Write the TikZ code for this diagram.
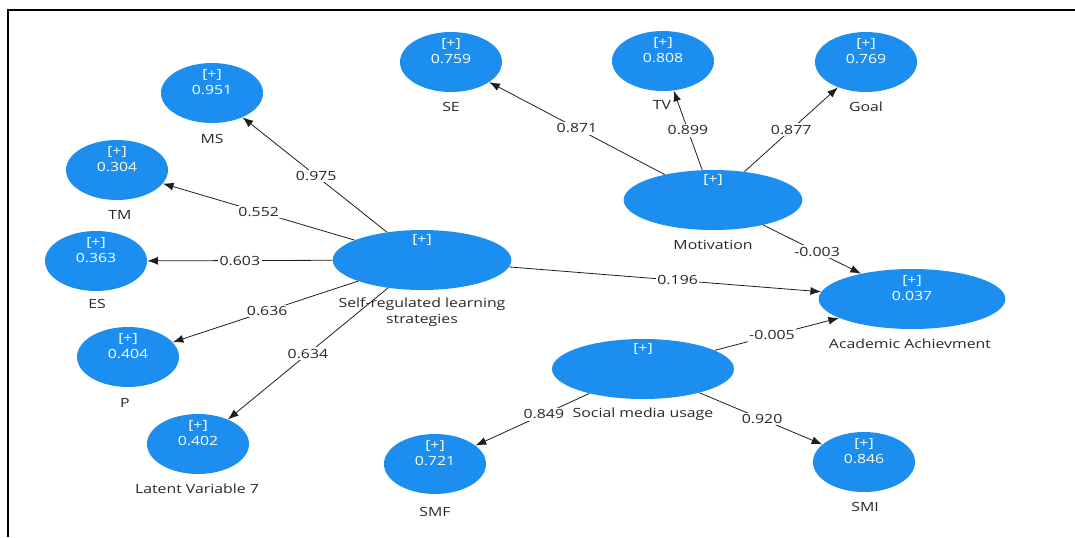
\documentclass[tikz,border=0pt]{standalone}
\usepackage{fontspec}
\setmainfont{Open Sans}[FakeStretch=1.25]
\usetikzlibrary{shapes.geometric,arrows.meta}
\definecolor{lvblue}{RGB}{28,142,240}
\definecolor{txtc}{RGB}{40,40,40}
\definecolor{edgec}{RGB}{30,30,30}
\newcommand\lvinner[2]{%
  \node[intx] (#1-p) at ([yshift=13.5pt]#1.center) {[+]};
  \node[intx] (#1-v) at ([yshift=2.25pt]#1.center) {#2};}
\newcommand\lvbiginner[1]{%
  \node[intx] (#1-p) at ([yshift=15pt]#1.center) {[+]};}
\begin{document}
\begin{tikzpicture}[x=0.75pt,y=-0.75pt,
  lv/.style={ellipse, fill=lvblue, draw=none, inner sep=0pt, minimum width=76.5pt, minimum height=45pt},
  lvbig/.style={lv, minimum width=134pt, minimum height=45pt},
  intx/.style={text=white, font=\fontsize{9.5}{11}\selectfont, inner sep=0pt},
  lab/.style={text=txtc, font=\fontsize{9.5}{11.5}\selectfont, inner sep=0pt, align=center},
  elab/.style={fill=white, text=txtc, font=\fontsize{9.5}{11}\selectfont, inner sep=1.2pt},
  edge/.style={draw=edgec, line width=0.6pt, -{Latex[length=8pt,width=6pt]}},
  frame/.style={line width=2pt, black}]
\useasboundingbox (0,0) rectangle (1075,537);
% frame
\coordinate (f1) at (8,537);
\coordinate (f2) at (8,10);
\coordinate (f3) at (1075,10);
\draw[frame] (f1) -- (f2) -- (f3);
% latent variables
\node[lv] (MS) at (212,93) {};
\node[lv] (TM) at (117,170) {};
\node[lv] (ES) at (96,261) {};
\node[lv] (P) at (128,357) {};
\node[lv] (LV7) at (198,444) {};
\node[lv] (SE) at (451,62) {};
\node[lv] (TV) at (663,61) {};
\node[lv] (Goal) at (866,62) {};
\node[lvbig] (Mot) at (713,200) {};
\node[lvbig] (SRL) at (422,260) {};
\node[lvbig, minimum width=140pt] (Acad) at (912,299) {};
\node[lvbig, minimum width=136.5pt] (Soc) at (643,369) {};
\node[lv] (SMF) at (435,464) {};
\node[lv] (SMI) at (864,462) {};
\lvinner{MS}{0.951}
\lvinner{TM}{0.304}
\lvinner{ES}{0.363}
\lvinner{P}{0.404}
\lvinner{LV7}{0.402}
\lvinner{SE}{0.759}
\lvinner{TV}{0.808}
\lvinner{Goal}{0.769}
\lvinner{Acad}{0.037}
\lvinner{SMF}{0.721}
\lvinner{SMI}{0.846}
\lvbiginner{Mot}
\lvbiginner{SRL}
\lvbiginner{Soc}
% labels
\node[lab] (MS-l) at (212,139) {MS};
\node[lab] (TM-l) at (120,215) {TM};
\node[lab] (ES-l) at (97,304) {ES};
\node[lab] (P-l) at (125,403) {P};
\node[lab] (LV7-l) at (197,489) {Latent Variable 7};
\node[lab] (SE-l) at (451,107) {SE};
\node[lab] (TV-l) at (662,105) {TV};
\node[lab] (Goal-l) at (866,107) {Goal};
\node[lab] (Mot-l) at (713,245) {Motivation};
\node[lab] (SRL-l) at (422,312) {Self-regulated learning\\strategies};
\node[lab] (Acad-l) at (910,344) {Academic Achievment};
\node[lab] (Soc-l) at (643,414) {Social media usage};
\node[lab] (SMF-l) at (435,512) {SMF};
\node[lab] (SMI-l) at (865,507) {SMI};
% edges
\draw[edge] (SRL) -- node[elab,pos=.49]{0.975} (MS);
\draw[edge] (SRL) -- node[elab,pos=.5]{0.552} (TM);
\draw[edge] (SRL) -- node[elab,pos=.5]{0.603} (ES);
\draw[edge] (SRL) -- node[elab,pos=.49]{0.636} (P);
\draw[edge] (SRL) -- node[elab,pos=.5]{0.634} (LV7);
\draw[edge] (Mot) -- node[elab,pos=.5]{0.871} (SE);
\draw[edge] (Mot) -- node[elab,pos=.5]{0.899} (TV);
\draw[edge] (Mot) -- node[elab,pos=.5]{0.877} (Goal);
\draw[edge] (Mot) -- node[elab,pos=.55]{-0.003} (Acad);
\draw[edge] (SRL) -- node[elab,pos=.54]{0.196} (Acad);
\draw[edge] (Soc) -- node[elab,pos=.46]{-0.005} (Acad);
\draw[edge] (Soc) -- node[elab,pos=.4]{0.849} (SMF);
\draw[edge] (Soc) -- node[elab,pos=.51]{0.920} (SMI);
\end{tikzpicture}
\end{document}
